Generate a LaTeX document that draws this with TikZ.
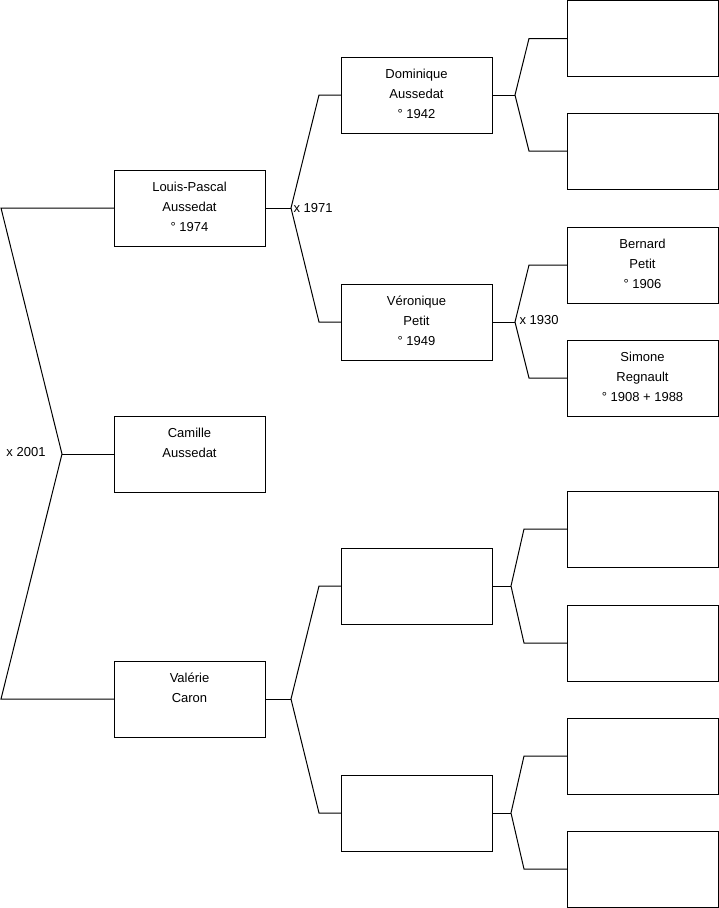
\documentclass[tikz,border=0pt]{standalone}
\usepackage{fontspec}
\setmainfont{Liberation Sans}
\begin{document}
\begin{tikzpicture}[x=1pt,y=-1pt,line width=1pt,
  box/.style={draw=black,minimum width=151pt,minimum height=76pt,inner sep=0pt,outer sep=0pt,anchor=north west},
  txt/.style={align=center,inner sep=0pt,anchor=north,font=\fontsize{13}{20}\selectfont},
  lbl/.style={inner sep=0pt,font=\fontsize{13}{16}\selectfont}]
\useasboundingbox (0,0) rectangle (719,908);
% boxes
\node[box] (p1) at (114,170) {};
\node[box] (p2) at (114,416) {};
\node[box] (p3) at (114,661) {};
\node[box] (g1) at (341,57) {};
\node[box] (g2) at (341,284) {};
\node[box] (g3) at (341,548) {};
\node[box] (g4) at (341,775) {};
\node[box] (gg1) at (567,0.5) {};
\node[box] (gg2) at (567,113) {};
\node[box] (gg3) at (567,227) {};
\node[box] (gg4) at (567,340) {};
\node[box] (gg5) at (567,491) {};
\node[box] (gg6) at (567,605) {};
\node[box] (gg7) at (567,718) {};
\node[box] (gg8) at (567,831) {};
% texts
\node[txt] (tp1) at ([yshift=-11.2pt]p1.north) {Louis-Pascal\\Aussedat\\° 1974};
\node[txt] (tp2) at ([yshift=-12pt]p2.north) {Camille\\Aussedat};
\node[txt] (tp3) at ([yshift=-11.2pt]p3.north) {Valérie\\Caron};
\node[txt] (tg1) at ([yshift=-11.2pt]g1.north) {Dominique\\Aussedat\\° 1942};
\node[txt] (tg2) at ([yshift=-11.2pt]g2.north) {Véronique\\Petit\\° 1949};
\node[txt] (tgg3) at ([yshift=-11.2pt]gg3.north) {Bernard\\Petit\\° 1906};
\node[txt] (tgg4) at ([yshift=-11.2pt]gg4.north) {Simone\\Regnault\\° 1908 + 1988};
% connector points
\coordinate (a0) at (1,208);
\coordinate (v0) at (62,454);
\coordinate (a1) at (1,699);
\coordinate (v1) at ([xshift=26pt]p1.east);
\coordinate (v2) at ([xshift=23pt]g1.east);
\coordinate (v3) at ([xshift=23pt]g2.east);
\coordinate (v4) at ([xshift=26pt]p3.east);
\coordinate (v5) at ([xshift=19pt]g3.east);
\coordinate (v6) at ([xshift=19pt]g4.east);
% connectors
\draw (p1.west) -- (a0) -- (v0) -- (a1) -- (p3.west);
\draw (v0) -- (p2.west);
\draw (p1.east) -- (v1);
\draw (g1.west) -- ++(-22,0) -- (v1) -- ([xshift=-22pt]g2.west) -- (g2.west);
\draw (g1.east) -- (v2);
\draw (gg1.west) -- ++(-38,0) -- (v2) -- ([xshift=-38pt]gg2.west) -- (gg2.west);
\draw (g2.east) -- (v3);
\draw (gg3.west) -- ++(-38,0) -- (v3) -- ([xshift=-38pt]gg4.west) -- (gg4.west);
\draw (p3.east) -- (v4);
\draw (g3.west) -- ++(-22,0) -- (v4) -- ([xshift=-22pt]g4.west) -- (g4.west);
\draw (g3.east) -- (v5);
\draw (gg5.west) -- ++(-43,0) -- (v5) -- ([xshift=-43pt]gg6.west) -- (gg6.west);
\draw (g4.east) -- (v6);
\draw (gg7.west) -- ++(-43,0) -- (v6) -- ([xshift=-43pt]gg8.west) -- (gg8.west);
% labels
\node[lbl,anchor=west] (l1971) at ([xshift=2pt,yshift=0pt]v1) {x 1971};
\node[lbl,anchor=west] (l1930) at ([xshift=4pt,yshift=1.5pt]v3) {x 1930};
\node[lbl,anchor=east] (l2001) at ([xshift=-16pt,yshift=2pt]v0) {x 2001};
\end{tikzpicture}
\end{document}
